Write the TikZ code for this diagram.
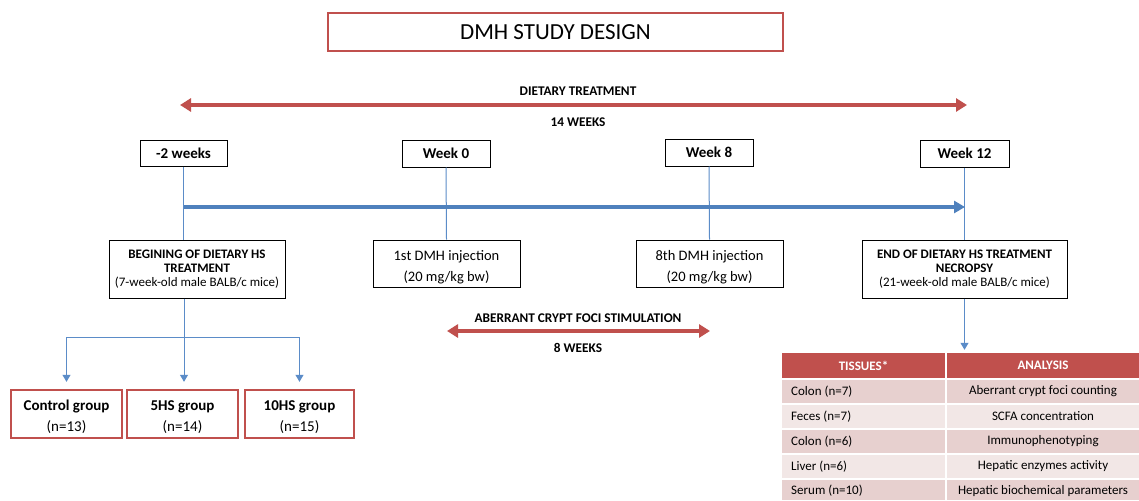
\documentclass[tikz,border=0pt]{standalone}
\usepackage{fontspec}
\setmainfont{Carlito}
\usetikzlibrary{arrows.meta}
\definecolor{cred}{HTML}{C0504D}
\definecolor{cblue}{HTML}{4F81BD}
\definecolor{lblue}{HTML}{5B8CC8}
\definecolor{rowa}{HTML}{E7D0CF}
\definecolor{rowb}{HTML}{F2E7E6}
\newcommand{\fs}[1]{\fontsize{#1}{#1}\selectfont}
\newcommand{\topstrut}{\rule{0pt}{17pt}}
\tikzset{
  titlebox/.style={draw=cred,line width=2.2pt,minimum width=455pt,minimum height=38pt,inner sep=0pt,font=\fs{23}},
  weekbox/.style={draw=black,line width=1pt,minimum width=88pt,minimum height=27pt,inner sep=0pt,font=\bfseries\fs{15}},
  eventbox/.style={draw=black,line width=1pt,inner sep=0pt,align=center},
  groupbox/.style={draw=cred,line width=2.4pt,minimum height=48pt,inner sep=0pt,align=center,font=\fs{15}},
  lbl/.style={font=\bfseries\fs{13.3},inner sep=0pt},
  redarrow/.style={draw=cred,line width=3.5pt,{Triangle[length=11pt,width=13pt]}-{Triangle[length=11pt,width=13pt]}},
  thinblue/.style={draw=lblue,line width=1pt},
  thickblue/.style={draw=cblue,line width=3.5pt,-{Triangle[length=11pt,width=12pt]}},
  smallarrow/.style={thinblue,-{Triangle[length=7pt,width=8pt]}},
  hcell/.style={fill=cred,text=white,font=\bfseries\fs{13},inner sep=0pt,minimum height=25pt},
  tcell/.style={font=\fs{13},inner sep=0pt,minimum height=23pt}
}
\begin{document}
\begin{tikzpicture}[x=1pt,y=-1pt]
\useasboundingbox (0,0) rectangle (1139,500);
\fill[white] (0,0) rectangle (1139,500);

% title
\node[titlebox] (title) at (555.5,32) {DMH STUDY DESIGN};

% dietary treatment arrow
\coordinate (dtl) at (180,105);
\coordinate (dtr) at (967,105);
\draw[redarrow] (dtl) -- (dtr);
\node[lbl] (dtlab) at (578,91) {DIETARY TREATMENT};
\node[lbl] (dtw) at (578,122) {14 WEEKS};

% week boxes
\node[weekbox,minimum width=87pt,minimum height=26pt] (wm2) at (183.5,153) {-2 weeks};
\node[weekbox] (w0) at (446,153.5) {Week 0};
\node[weekbox] (w8) at (709,152.5) {Week 8};
\node[weekbox,minimum width=89pt] (w12) at (964.5,153.5) {Week 12};

% event boxes
\node[eventbox,minimum width=176pt,minimum height=58pt] (begin) at (197,269)
  {{\bfseries\fs{13}BEGINING OF DIETARY HS}\\[2pt]{\bfseries\fs{13}TREATMENT}\\[2pt]{\fs{13}(7-week-old male BALB/c mice)}};
\node[eventbox,minimum width=147pt,minimum height=47pt,font=\fs{14.5}] (dmh1) at (446.5,263.5)
  {\topstrut 1st DMH injection\\[7pt](20 mg/kg bw)};
\node[eventbox,minimum width=147pt,minimum height=47pt,font=\fs{14.5}] (dmh8) at (709.5,263.5)
  {\topstrut 8th DMH injection\\[7pt](20 mg/kg bw)};
\node[eventbox,minimum width=205pt,minimum height=58pt] (endbox) at (964.5,269)
  {{\bfseries\fs{13}END OF DIETARY HS TREATMENT}\\[2pt]{\bfseries\fs{13}NECROPSY}\\[2pt]{\fs{13}(21-week-old male BALB/c mice)}};

% vertical thin lines
\draw[thinblue] (wm2.south) -- (wm2.south |- begin.north);
\draw[thinblue] (w0.south) -- (dmh1.north);
\draw[thinblue] (w8.south) -- (dmh8.north);
\draw[thinblue] (w12.south) -- (w12.south |- endbox.north);

% thick blue arrow
\coordinate (ba) at (184,207);
\coordinate (bb) at (965,207);
\draw[thickblue] (ba) -- (bb);

% groups
\node[groupbox,minimum width=111pt] (ctrl) at (66.5,414) {\topstrut\bfseries Control group\\[6pt](n=13)};
\node[groupbox,minimum width=111pt] (g5) at (182.5,414) {\topstrut\bfseries 5HS group\\[6pt](n=14)};
\node[groupbox,minimum width=109pt] (g10) at (299.5,414) {\topstrut\bfseries 10HS group\\[6pt](n=15)};

\coordinate (split) at (184,337);
\coordinate (ctop) at ([yshift=7pt]ctrl.north);
\coordinate (g5top) at ([yshift=7pt]g5.north);
\coordinate (g10top) at ([yshift=7pt]g10.north);
\draw[thinblue] (split |- begin.south) -- (split);
\draw[smallarrow] (split) -| (ctop);
\draw[smallarrow] (split) -- (split |- g5top);
\draw[smallarrow] (split) -| (g10top);

% ACF arrow
\coordinate (al) at (447,331);
\coordinate (ar) at (710,331);
\draw[redarrow] (al) -- (ar);
\node[lbl] (acf) at (578,318) {ABERRANT CRYPT FOCI STIMULATION};
\node[lbl] (acfw) at (578,348) {8 WEEKS};

% table
\node[hcell,minimum width=163pt] (h1) at (863.5,365.5) {TISSUES*};
\node[hcell,minimum width=192pt] (h2) at (1043,365.5) {ANALYSIS};
\coordinate (tabtop) at ([yshift=3pt]h2.north);
\draw[smallarrow] (w12.south |- endbox.south) -- (w12.south |- tabtop);

\fill[rowa] (782,380) rectangle (945,403);
\fill[rowa] (947,380) rectangle (1139,403);
\fill[rowb] (782,405) rectangle (945,428);
\fill[rowb] (947,405) rectangle (1139,428);
\fill[rowa] (782,430) rectangle (945,453);
\fill[rowa] (947,430) rectangle (1139,453);
\fill[rowb] (782,455) rectangle (945,478);
\fill[rowb] (947,455) rectangle (1139,478);
\fill[rowa] (782,480) rectangle (945,500);
\fill[rowa] (947,480) rectangle (1139,500);

\node[tcell,anchor=west] (t1) at (791,391.5) {Colon (n=7)};
\node[tcell,anchor=west] (t2) at (791,416.5) {Feces (n=7)};
\node[tcell,anchor=west] (t3) at (791,441.5) {Colon (n=6)};
\node[tcell,anchor=west] (t4) at (791,466.5) {Liver (n=6)};
\node[tcell,anchor=west] (t5) at (791,491) {Serum (n=10)};
\node[tcell] (a1) at (1043,391.5) {Aberrant crypt foci counting};
\node[tcell] (a2) at (1043,416.5) {SCFA concentration};
\node[tcell] (a3) at (1043,441.5) {Immunophenotyping};
\node[tcell] (a4) at (1043,466.5) {Hepatic enzymes activity};
\node[tcell] (a5) at (1043,491) {Hepatic biochemical parameters};
\end{tikzpicture}
\end{document}
